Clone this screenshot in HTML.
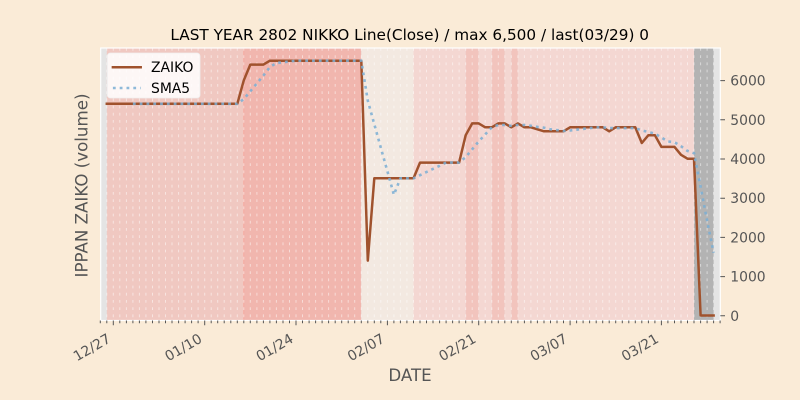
<!DOCTYPE html>
<html>
<head>
<meta charset="utf-8">
<style>
html,body{margin:0;padding:0;background:#faebd7;}
svg{display:block;}
</style>
</head>
<body>
<svg width="800" height="400" viewBox="0 0 800 400" xmlns="http://www.w3.org/2000/svg">
<rect width="800" height="400" fill="#faebd7"/>
<!-- axes background -->
<rect x="100.7" y="48" width="619.6" height="272.5" fill="#e4e4e4"/>
<!-- bands -->
<g>
<rect x="106.8" y="48" width="137.0" height="272.5" fill="#f0c8c1"/>
<rect x="243.8" y="48" width="117.5" height="272.5" fill="#f1b6ae"/>
<rect x="361.3" y="48" width="52.2" height="272.5" fill="#f3e9e1"/>
<rect x="413.5" y="48" width="52.2" height="272.5" fill="#f4d7d2"/>
<rect x="465.7" y="48" width="13.0" height="272.5" fill="#f2c4bd"/>
<rect x="478.7" y="48" width="13.1" height="272.5" fill="#f4d7d2"/>
<rect x="491.8" y="48" width="13.0" height="272.5" fill="#f2c4bd"/>
<rect x="504.8" y="48" width="6.5" height="272.5" fill="#f4d7d2"/>
<rect x="511.3" y="48" width="6.6" height="272.5" fill="#f2c4bd"/>
<rect x="517.9" y="48" width="176.1" height="272.5" fill="#f4d7d2"/>
<rect x="694.0" y="48" width="19.6" height="272.5" fill="#b3b3b3"/>
<line x1="243.8" y1="48" x2="243.8" y2="320.5" stroke="#f5a99f" stroke-width="1"/>
</g>
<!-- dashed daily grid -->
<path fill="none" stroke="#ffffff" stroke-opacity="0.5" stroke-width="1" stroke-dasharray="2.8 4.4"
d="M106.8 48v272M113.3 48v272M119.8 48v272M126.4 48v272M132.9 48v272M139.4 48v272M145.9 48v272M152.5 48v272M159.0 48v272M165.5 48v272M172.0 48v272M178.6 48v272M185.1 48v272M191.6 48v272M198.1 48v272M204.7 48v272M211.2 48v272M217.7 48v272M224.2 48v272M230.8 48v272M237.3 48v272M243.8 48v272M250.3 48v272M256.9 48v272M263.4 48v272M269.9 48v272M276.4 48v272M283.0 48v272M289.5 48v272M296.0 48v272M302.5 48v272M309.1 48v272M315.6 48v272M322.1 48v272M328.6 48v272M335.2 48v272M341.7 48v272M348.2 48v272M354.7 48v272M361.3 48v272M367.8 48v272M374.3 48v272M380.8 48v272M387.4 48v272M393.9 48v272M400.4 48v272M406.9 48v272M413.5 48v272M420.0 48v272M426.5 48v272M433.0 48v272M439.6 48v272M446.1 48v272M452.6 48v272M459.1 48v272M465.7 48v272M472.2 48v272M478.7 48v272M485.2 48v272M491.8 48v272M498.3 48v272M504.8 48v272M511.3 48v272M517.9 48v272M524.4 48v272M530.9 48v272M537.4 48v272M544.0 48v272M550.5 48v272M557.0 48v272M563.5 48v272M570.1 48v272M576.6 48v272M583.1 48v272M589.6 48v272M596.2 48v272M602.7 48v272M609.2 48v272M615.7 48v272M622.3 48v272M628.8 48v272M635.3 48v272M641.8 48v272M648.4 48v272M654.9 48v272M661.4 48v272M667.9 48v272M674.5 48v272M681.0 48v272M687.5 48v272M694.0 48v272M700.6 48v272M707.1 48v272M713.6 48v272"/>
<!-- axes frame -->
<rect x="100.7" y="48" width="619.6" height="272.5" fill="none" stroke="#ffffff" stroke-width="1.2"/>

<!-- ZAIKO line -->
<polyline fill="none" stroke="#a0522d" stroke-width="2.5" stroke-linejoin="round" stroke-linecap="square"
points="106.8,103.8 237.3,103.8 243.8,80.3 250.3,64.6 263.4,64.6 269.9,60.7 361.3,60.7 367.8,260.6 374.3,178.3 413.5,178.3 420.0,162.6 459.1,162.6 465.7,135.2 472.2,123.4 478.7,123.4 485.2,127.3 491.8,127.3 498.3,123.4 504.8,123.4 511.3,127.3 517.9,123.4 524.4,127.3 530.9,127.3 537.4,129.3 544.0,131.3 563.5,131.3 570.1,127.3 602.7,127.3 609.2,131.3 615.7,127.3 635.3,127.3 641.8,143.0 648.4,135.2 654.9,135.2 661.4,146.9 674.5,146.9 681.0,154.8 687.5,158.7 694.0,158.7 700.6,315.5 713.6,315.5"/>
<!-- SMA5 line -->
<polyline fill="none" stroke="#7aaed4" stroke-opacity="0.85" stroke-width="2.6" stroke-dasharray="2.8 4" stroke-linejoin="round"
points="132.9,103.8 237.3,103.8 243.8,99.1 250.3,91.3 256.9,83.4 263.4,75.6 269.9,67.0 276.4,63.05 283.0,62.3 289.5,61.5 296.0,60.7 361.3,60.7 367.8,100.7 374.3,124.2 380.8,147.7 387.4,171.2 393.9,194.8 400.4,178.3 413.5,178.3 420.0,175.2 426.5,172.0 433.0,168.9 439.6,165.8 446.1,162.6 459.1,162.6 465.7,157.1 472.2,149.3 478.7,141.45 485.2,134.4 491.8,127.3 498.3,125.0 504.8,125.0 511.3,125.8 517.9,125.0 524.4,125.0 530.9,125.8 537.4,126.95 544.0,127.7 550.5,129.3 557.0,130.1 563.5,130.9 570.1,130.5 576.6,129.7 583.1,128.9 589.6,128.1 596.2,127.3 602.7,127.3 609.2,128.1 635.3,128.1 641.8,130.5 648.4,132.0 654.9,133.6 661.4,137.5 667.9,141.45 674.5,142.2 681.0,146.2 687.5,150.9 694.0,153.2 700.6,186.9 707.1,220.6 713.6,252.8"/>

<!-- legend -->
<rect x="107.3" y="53" width="92.7" height="45" rx="3" ry="3" fill="#ffffff" fill-opacity="0.85" stroke="#eeeeee" stroke-width="0.8"/>
<line x1="112.9" y1="67.3" x2="140.7" y2="67.3" stroke="#a0522d" stroke-width="2.5" stroke-linecap="square"/>
<line x1="112.9" y1="88" x2="140.7" y2="88" stroke="#7aaed4" stroke-opacity="0.85" stroke-width="2.6" stroke-dasharray="2.8 4"/>
<g font-family="'DejaVu Sans', 'Liberation Sans', sans-serif" font-size="13.9" fill="#000">
<text x="151" y="72">ZAIKO</text>
<text x="151" y="93">SMA5</text>
</g>

<!-- x ticks -->
<path fill="none" stroke="#555" stroke-width="1"
d="M100.3 320.5v2.7M106.8 320.5v2.7M119.8 320.5v2.7M126.4 320.5v2.7M132.9 320.5v2.7M139.4 320.5v2.7M145.9 320.5v2.7M152.5 320.5v2.7M159.0 320.5v2.7M165.5 320.5v2.7M172.0 320.5v2.7M178.6 320.5v2.7M185.1 320.5v2.7M191.6 320.5v2.7M198.1 320.5v2.7M211.2 320.5v2.7M217.7 320.5v2.7M224.2 320.5v2.7M230.8 320.5v2.7M237.3 320.5v2.7M243.8 320.5v2.7M250.3 320.5v2.7M256.9 320.5v2.7M263.4 320.5v2.7M269.9 320.5v2.7M276.4 320.5v2.7M283.0 320.5v2.7M289.5 320.5v2.7M302.5 320.5v2.7M309.1 320.5v2.7M315.6 320.5v2.7M322.1 320.5v2.7M328.6 320.5v2.7M335.2 320.5v2.7M341.7 320.5v2.7M348.2 320.5v2.7M354.7 320.5v2.7M361.3 320.5v2.7M367.8 320.5v2.7M374.3 320.5v2.7M380.8 320.5v2.7M393.9 320.5v2.7M400.4 320.5v2.7M406.9 320.5v2.7M413.5 320.5v2.7M420.0 320.5v2.7M426.5 320.5v2.7M433.0 320.5v2.7M439.6 320.5v2.7M446.1 320.5v2.7M452.6 320.5v2.7M459.1 320.5v2.7M465.7 320.5v2.7M472.2 320.5v2.7M485.2 320.5v2.7M491.8 320.5v2.7M498.3 320.5v2.7M504.8 320.5v2.7M511.3 320.5v2.7M517.9 320.5v2.7M524.4 320.5v2.7M530.9 320.5v2.7M537.4 320.5v2.7M544.0 320.5v2.7M550.5 320.5v2.7M557.0 320.5v2.7M563.5 320.5v2.7M576.6 320.5v2.7M583.1 320.5v2.7M589.6 320.5v2.7M596.2 320.5v2.7M602.7 320.5v2.7M609.2 320.5v2.7M615.7 320.5v2.7M622.3 320.5v2.7M628.8 320.5v2.7M635.3 320.5v2.7M641.8 320.5v2.7M648.4 320.5v2.7M654.9 320.5v2.7M667.9 320.5v2.7M674.5 320.5v2.7M681.0 320.5v2.7M687.5 320.5v2.7M694.0 320.5v2.7M700.6 320.5v2.7M707.1 320.5v2.7M713.6 320.5v2.7M720.1 320.5v2.7
M113.3 320.5v4.7M204.7 320.5v4.7M296.0 320.5v4.7M387.4 320.5v4.7M478.7 320.5v4.7M570.1 320.5v4.7M661.4 320.5v4.7"/>
<!-- y ticks (right) -->
<path fill="none" stroke="#555" stroke-width="1"
d="M720.3 315.8h4.7M720.3 276.6h4.7M720.3 237.4h4.7M720.3 198.2h4.7M720.3 159.0h4.7M720.3 119.8h4.7M720.3 80.6h4.7"/>

<g font-family="'DejaVu Sans', 'Liberation Sans', sans-serif" font-size="13.9" fill="#555">
<text transform="translate(111.6,341.5) rotate(-30)" text-anchor="end">12/27</text>
<text transform="translate(203.0,341.5) rotate(-30)" text-anchor="end">01/10</text>
<text transform="translate(294.3,341.5) rotate(-30)" text-anchor="end">01/24</text>
<text transform="translate(385.7,341.5) rotate(-30)" text-anchor="end">02/07</text>
<text transform="translate(477.0,341.5) rotate(-30)" text-anchor="end">02/21</text>
<text transform="translate(568.4,341.5) rotate(-30)" text-anchor="end">03/07</text>
<text transform="translate(659.7,341.5) rotate(-30)" text-anchor="end">03/21</text>
<text x="730.3" y="320.8">0</text>
<text x="730.3" y="281.6">1000</text>
<text x="730.3" y="242.4">2000</text>
<text x="730.3" y="203.2">3000</text>
<text x="730.3" y="164.0">4000</text>
<text x="730.3" y="124.8">5000</text>
<text x="730.3" y="85.6">6000</text>
</g>

<!-- axis labels -->
<g font-family="'DejaVu Sans', 'Liberation Sans', sans-serif" font-size="16.67" fill="#555">
<text x="410" y="381" text-anchor="middle">DATE</text>
<text transform="translate(87.3,185.5) rotate(-90)" text-anchor="middle">IPPAN ZAIKO (volume)</text>
</g>
<!-- title -->
<text x="409.7" y="40" text-anchor="middle" font-family="'DejaVu Sans', 'Liberation Sans', sans-serif" font-size="15.28" fill="#000">LAST YEAR 2802 NIKKO Line(Close) / max 6,500 / last(03/29) 0</text>
</svg>
</body>
</html>
